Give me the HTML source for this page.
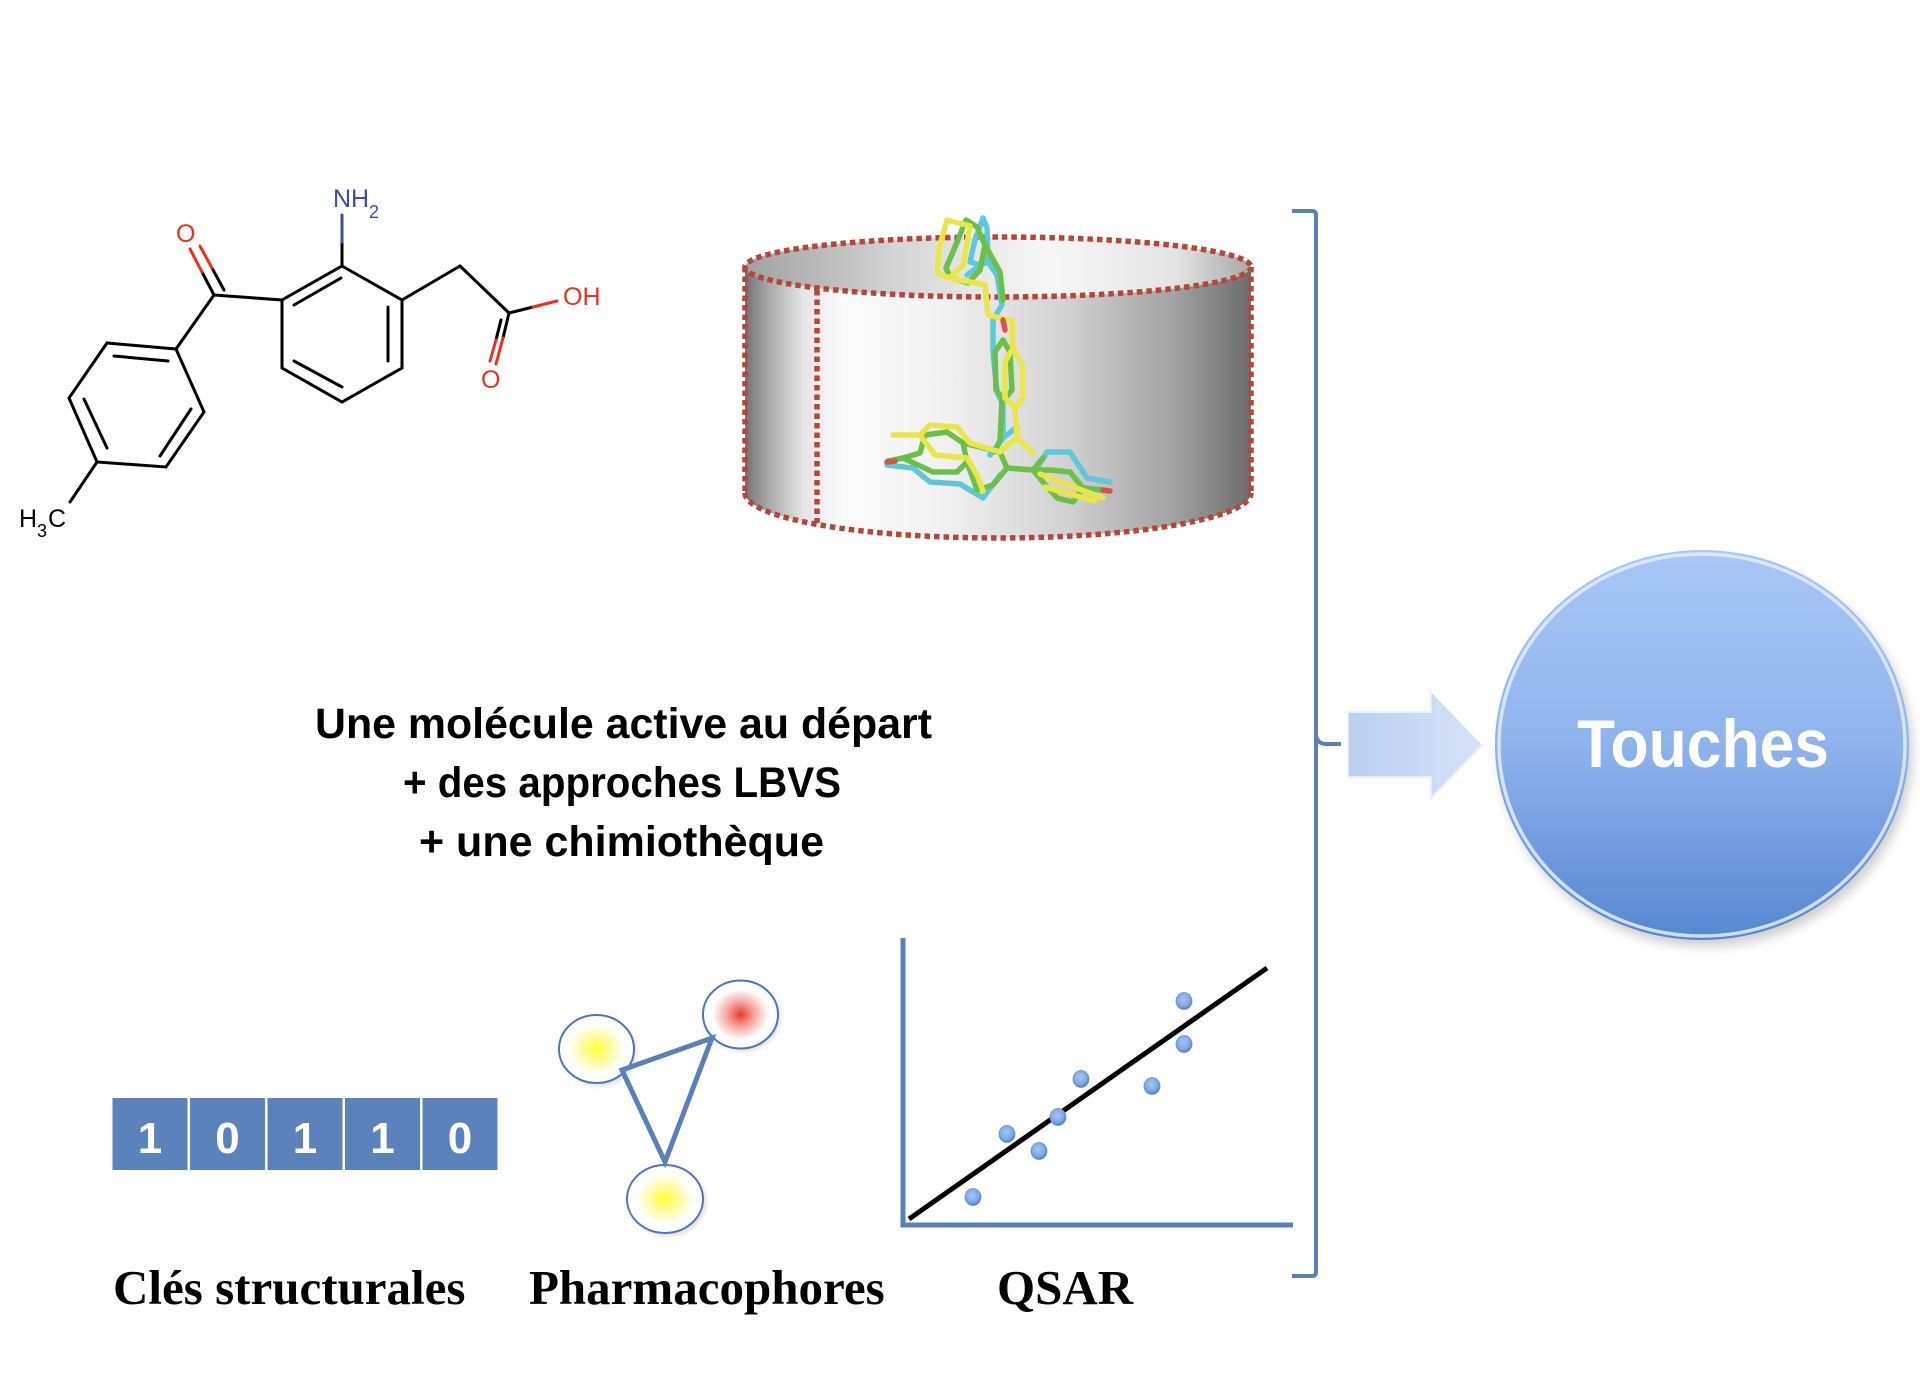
<!DOCTYPE html>
<html><head><meta charset="utf-8"><style>
html,body{margin:0;padding:0;background:#fff;}
svg{display:block;}
</style></head><body>
<svg width="1920" height="1400" viewBox="0 0 1920 1400" xmlns="http://www.w3.org/2000/svg">
<defs>
<linearGradient id="body" x1="743" y1="0" x2="1251" y2="0" gradientUnits="userSpaceOnUse">
<stop offset="0" stop-color="#6e6e6e"/>
<stop offset="0.05" stop-color="#a8a8a8"/>
<stop offset="0.12" stop-color="#e6e6e6"/>
<stop offset="0.2" stop-color="#fbfbfb"/>
<stop offset="0.4" stop-color="#f1f1f1"/>
<stop offset="0.65" stop-color="#cfcfcf"/>
<stop offset="0.85" stop-color="#a2a2a2"/>
<stop offset="1" stop-color="#6c6c6c"/>
</linearGradient>
<linearGradient id="top" x1="743" y1="0" x2="1251" y2="0" gradientUnits="userSpaceOnUse">
<stop offset="0" stop-color="#a0a0a0"/>
<stop offset="0.3" stop-color="#d4d4d4"/>
<stop offset="0.6" stop-color="#f7f7f7"/>
<stop offset="0.85" stop-color="#e4e4e4"/>
<stop offset="1" stop-color="#a8a8a8"/>
</linearGradient>
<linearGradient id="circ" x1="0" y1="0" x2="0" y2="1">
<stop offset="0" stop-color="#a8c7f6"/>
<stop offset="0.5" stop-color="#8fb3ec"/>
<stop offset="1" stop-color="#5587d0"/>
</linearGradient>
<linearGradient id="arr" x1="0" y1="0" x2="1" y2="0">
<stop offset="0" stop-color="#bccff0"/>
<stop offset="1" stop-color="#d6e2f6"/>
</linearGradient>
<radialGradient id="yel" cx="0.5" cy="0.5" r="0.5">
<stop offset="0" stop-color="#ffff30"/>
<stop offset="0.35" stop-color="#fdfb9a"/>
<stop offset="0.75" stop-color="#ffffff"/>
</radialGradient>
<radialGradient id="red" cx="0.5" cy="0.5" r="0.5">
<stop offset="0" stop-color="#e63a25"/>
<stop offset="0.35" stop-color="#f3a39a"/>
<stop offset="0.75" stop-color="#ffffff"/>
</radialGradient>
<radialGradient id="dot" cx="0.45" cy="0.4" r="0.6">
<stop offset="0" stop-color="#a9c6f2"/>
<stop offset="0.7" stop-color="#7ea6e6"/>
<stop offset="1" stop-color="#4d79c6"/>
</radialGradient>
<filter id="sh" x="-20%" y="-20%" width="140%" height="140%">
<feGaussianBlur stdDeviation="5"/>
</filter>
<filter id="sh2" x="-30%" y="-30%" width="160%" height="160%">
<feGaussianBlur stdDeviation="2"/>
</filter>
</defs>

<!-- ============ Molecule 2D ============ -->
<g stroke="#000" stroke-width="3" fill="none" stroke-linecap="round">
<polygon points="342,266 402,300 402,368 342,402 282,368 282,300"/>
<line x1="294" y1="305" x2="341" y2="278"/>
<line x1="388" y1="307" x2="388" y2="361"/>
<line x1="294" y1="361" x2="342" y2="387"/>
<line x1="342" y1="266" x2="342" y2="242"/>
<line x1="402" y1="300" x2="460" y2="266"/>
<line x1="460" y1="266" x2="509" y2="313"/>
<line x1="509" y1="313" x2="533" y2="307"/>
<line x1="509" y1="313" x2="503" y2="338"/>
<line x1="501" y1="320" x2="496" y2="340"/>
<line x1="282" y1="300" x2="214" y2="295"/>
<line x1="214" y1="295" x2="202" y2="272"/>
<line x1="224" y1="290" x2="212" y2="268"/>
<line x1="214" y1="295" x2="176" y2="349"/>
<polygon points="176,349 107,343 69,398 97,462 166,467 204,412"/>
<line x1="168" y1="361" x2="114" y2="356"/>
<line x1="84" y1="399" x2="107" y2="448"/>
<line x1="160" y1="456" x2="191" y2="409"/>
<line x1="97" y1="462" x2="70" y2="502"/>
</g>
<g stroke="#3a4fa0" stroke-width="3" stroke-linecap="round"><line x1="342" y1="242" x2="342" y2="215"/></g>
<g stroke="#e8321e" stroke-width="3" stroke-linecap="round">
<line x1="533" y1="307" x2="557" y2="301"/>
<line x1="503" y1="338" x2="496" y2="364"/>
<line x1="496" y1="340" x2="490" y2="361"/>
<line x1="202" y1="272" x2="190" y2="249"/>
<line x1="212" y1="268" x2="200" y2="246"/>
</g>
<g font-family="Liberation Sans, DejaVu Sans, sans-serif" font-size="25">
<text x="333" y="207" fill="#3a4fa0">NH</text>
<text x="369" y="218" fill="#3a4fa0" font-size="18">2</text>
<text x="176" y="242" fill="#e8321e">O</text>
<text x="563" y="305" fill="#e8321e">OH</text>
<text x="481" y="388" fill="#e8321e">O</text>
<text x="19" y="527" fill="#000">H</text>
<text x="37" y="537" fill="#000" font-size="18">3</text>
<text x="48" y="527" fill="#000">C</text>
</g>

<!-- ============ Cylinder ============ -->
<path d="M745,267 L745,493 A253,45 0 0 0 1251,493 L1251,267 Z" fill="url(#body)"/>
<ellipse cx="998" cy="267" rx="253" ry="30" fill="url(#top)"/>
<g stroke="#b4463b" stroke-width="5.5" stroke-dasharray="5.5 4" fill="none">
<ellipse cx="998" cy="267" rx="253" ry="30"/>
<line x1="745" y1="267" x2="745" y2="493"/>
<line x1="1251" y1="267" x2="1251" y2="493"/>
<path d="M745,493 A253,45 0 0 0 1251,493"/>
<line x1="817" y1="290" x2="817" y2="523"/>
</g>

<!-- ligand -->
<g fill="none" stroke-width="5.5" stroke-linejoin="round" stroke-linecap="round">
<g stroke="#5fc8d8">
<polyline points="983,218 987,228 988,262 980,265 967,275"/>
<polyline points="983,218 975,240 970,262 980,265"/>
<polyline points="988,262 997,275 1002,305 993,320 993,352 997,392 1003,405 1003,438 997,446 990,455"/>
<polyline points="1003,438 1017,427"/>
<polyline points="887,465 913,468 930,482 960,484 983,498 1000,475"/>
<polyline points="1037,468 1047,452 1070,452 1087,478 1110,482"/>
</g>
<g stroke="#6cc04a">
<polygon points="966,220 977,227 985,245 980,270 968,283 950,277 946,268 958,240"/>
<polyline points="985,245 1000,272 1003,300"/>
<polygon points="1003,340 1010,352 1012,390 1004,400 996,390 995,352"/>
<polyline points="1002,400 1000,440 995,452"/>
<polygon points="903,458 920,453 925,435 947,432 963,443 967,462 957,472 933,472"/>
<polyline points="888,461 903,458"/>
<polyline points="963,443 1000,452 1007,468 993,485 977,490 967,462"/>
<polyline points="1007,468 1033,470 1043,458"/>
<polygon points="1033,470 1043,482 1057,498 1073,502 1083,488 1070,472 1050,470"/>
<polyline points="1083,488 1103,490"/>
</g>
<g stroke="#e9e64a">
<polygon points="947,220 970,226 963,265 950,278 937,273 939,248"/>
<polyline points="950,278 985,285 988,315 1012,321 1013,348"/>
<polygon points="1013,348 1023,367 1023,398 1015,408 1005,398 1005,362"/>
<polyline points="1015,408 1017,438 1033,453"/>
<polyline points="1017,438 1000,452 970,443 957,427 930,425 920,435 893,435"/>
<polyline points="920,435 935,455 967,458 977,475 983,491"/>
<polyline points="1040,474 1063,483 1103,498"/>
<polyline points="1045,487 1095,501"/>
</g>
<g stroke="#d9534a">
<line x1="887" y1="462" x2="895" y2="461"/>
<line x1="1103" y1="490" x2="1110" y2="491"/>
<line x1="1003" y1="320" x2="1005" y2="330"/>
</g>
</g>

<!-- ============ Central text ============ -->
<g font-family="Liberation Sans, DejaVu Sans, sans-serif" font-weight="bold" font-size="43" fill="#000">
<text x="315" y="738" textLength="617" lengthAdjust="spacingAndGlyphs">Une molécule active au départ</text>
<text x="403" y="797" textLength="438" lengthAdjust="spacingAndGlyphs">+ des approches LBVS</text>
<text x="419" y="856" textLength="405" lengthAdjust="spacingAndGlyphs">+ une chimiothèque</text>
</g>

<!-- ============ Bracket ============ -->
<g stroke="#5b7fb9" stroke-width="4" fill="none" stroke-linejoin="round">
<path d="M1292,211 L1312,211 Q1316,211 1316,215 L1316,1272 Q1316,1276 1312,1276 L1292,1276"/>
<path d="M1316,736 Q1318,744 1326,744 L1341,744"/>
</g>

<!-- ============ Arrow ============ -->
<polygon points="1348,712 1431,712 1431,690 1483,744 1431,798 1431,777 1348,777" fill="url(#arr)" stroke="#e8eefa" stroke-width="2"/>
<polyline points="1431,690 1483,744" stroke="#ffffff" stroke-width="3" fill="none"/>

<!-- ============ Circle ============ -->
<ellipse cx="1706" cy="752" rx="207" ry="195" fill="#9a9a9a" opacity="0.45" filter="url(#sh)"/>
<ellipse cx="1702" cy="745" rx="207" ry="195" fill="url(#circ)"/>
<ellipse cx="1702" cy="745" rx="203" ry="191" fill="none" stroke="#e2ecfc" stroke-width="3.5" opacity="0.85"/>
<text x="1577" y="767" font-family="Liberation Sans, DejaVu Sans, sans-serif" font-weight="bold" font-size="68" fill="#ffffff" textLength="252" lengthAdjust="spacingAndGlyphs">Touches</text>

<!-- ============ Bits ============ -->
<g fill="#5b82ba">
<rect x="112.5" y="1098" width="75" height="72"/>
<rect x="190" y="1098" width="75" height="72"/>
<rect x="267.5" y="1098" width="75" height="72"/>
<rect x="345" y="1098" width="75" height="72"/>
<rect x="422.5" y="1098" width="75" height="72"/>
</g>
<g font-family="Liberation Sans, DejaVu Sans, sans-serif" font-weight="bold" font-size="44" fill="#fff" text-anchor="middle">
<text x="150" y="1153">1</text>
<text x="227.5" y="1153">0</text>
<text x="305" y="1153">1</text>
<text x="382.5" y="1153">1</text>
<text x="460" y="1153">0</text>
</g>

<!-- ============ Pharmacophore ============ -->
<g>
<ellipse cx="599" cy="1052" rx="37.5" ry="34" fill="#bbb" opacity="0.5" filter="url(#sh2)"/>
<ellipse cx="743" cy="1017" rx="37.5" ry="34" fill="#bbb" opacity="0.5" filter="url(#sh2)"/>
<ellipse cx="668" cy="1202" rx="38" ry="34" fill="#bbb" opacity="0.5" filter="url(#sh2)"/>
<ellipse cx="596.5" cy="1049" rx="37.5" ry="34" fill="url(#yel)" stroke="#4f75b5" stroke-width="2"/>
<ellipse cx="740.5" cy="1014.5" rx="37.5" ry="34" fill="url(#red)" stroke="#4f75b5" stroke-width="2"/>
<ellipse cx="665" cy="1199" rx="38" ry="34" fill="url(#yel)" stroke="#4f75b5" stroke-width="2"/>
<polygon points="622,1070 712,1038 665,1162" fill="none" stroke="#5b7fb9" stroke-width="5" stroke-linejoin="miter"/>
</g>

<!-- ============ QSAR ============ -->
<g stroke="#5b7fb9" stroke-width="5" fill="none">
<line x1="903" y1="938" x2="903" y2="1227"/>
<line x1="901" y1="1225" x2="1293" y2="1225"/>
</g>
<line x1="909" y1="1219" x2="1267" y2="968" stroke="#000" stroke-width="5"/>
<g fill="url(#dot)" stroke="#6a93d4" stroke-width="0.8">
<ellipse cx="973" cy="1197" rx="8" ry="8.5"/>
<ellipse cx="1007" cy="1134" rx="8" ry="8.5"/>
<ellipse cx="1039" cy="1151" rx="8" ry="8.5"/>
<ellipse cx="1058" cy="1117" rx="8" ry="8.5"/>
<ellipse cx="1081" cy="1079" rx="8" ry="8.5"/>
<ellipse cx="1152" cy="1086" rx="8" ry="8.5"/>
<ellipse cx="1184" cy="1001" rx="8" ry="8.5"/>
<ellipse cx="1184" cy="1044" rx="8" ry="8.5"/>
</g>

<!-- ============ Labels ============ -->
<g font-family="Liberation Serif, DejaVu Serif, serif" font-weight="bold" font-size="49" fill="#000">
<text x="113" y="1304">Clés structurales</text>
<text x="529" y="1304">Pharmacophores</text>
<text x="997" y="1304">QSAR</text>
</g>
</svg>
</body></html>
